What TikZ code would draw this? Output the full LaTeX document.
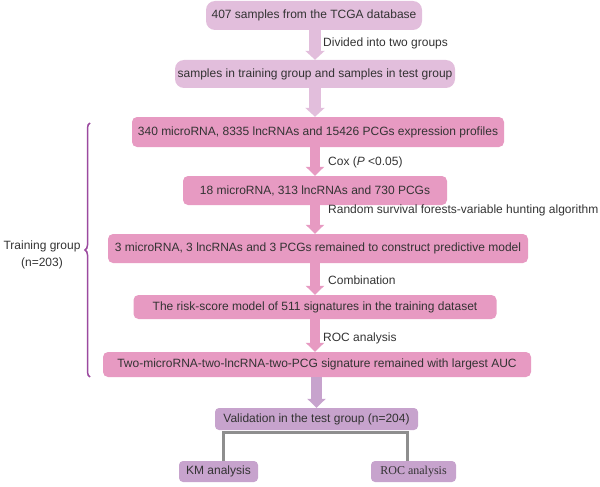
\documentclass[tikz,border=0pt]{standalone}
\usepackage{fontspec}
\setmainfont{Liberation Sans}
\newfontfamily\serifroc{Liberation Serif}
\usetikzlibrary{arrows.meta,decorations.pathreplacing,calc}
\definecolor{rosaclaro}{HTML}{E2BEDC}
\definecolor{rosa}{HTML}{E79AC2}
\definecolor{lilas}{HTML}{C7A3CD}
\definecolor{cinza}{HTML}{8E8E8E}
\definecolor{roxo}{HTML}{9B4A9F}
\definecolor{texto}{HTML}{333333}

\begin{document}
\begin{tikzpicture}[x=1pt,y=-1pt,font=\fontsize{12}{14}\selectfont,text=texto,
	caixa/.style = {fill=rosa,rounded corners=5pt,inner sep=0pt},
	caixaclara/.style = {fill=rosaclaro,rounded corners=9pt,inner sep=0pt},
	caixalilas/.style = {fill=lilas,rounded corners=4pt,inner sep=0pt},
	seta/.style = {draw=rosa,line width=10pt,-{Triangle[width=18pt,length=9pt]}},
	setaclara/.style = {draw=rosaclaro,line width=12pt,-{Triangle[width=19pt,length=9pt]}},
	setalilas/.style = {draw=lilas,line width=11pt,-{Triangle[width=18pt,length=9pt]}},
	rotulo/.style = {anchor=west,inner sep=0pt}]
	\useasboundingbox (0,0) rectangle (600,487);

	\node[caixaclara,minimum width=216pt,minimum height=29pt] (A) at (314,15.5) {407 samples from the TCGA database};
	\node[caixaclara,minimum width=280pt,minimum height=28pt] (B) at (315,74) {samples in training group and samples in test group};
	\node[caixa,minimum width=372pt,minimum height=30pt] (C) at (318,132) {340 microRNA, 8335 lncRNAs and 15426 PCGs expression profiles};
	\node[caixa,minimum width=264pt,minimum height=29pt] (D) at (315,190.5) {18 microRNA, 313 lncRNAs and 730 PCGs};
	\node[caixa,minimum width=420pt,minimum height=29pt] (E) at (318,248.5) {3 microRNA, 3 lncRNAs and 3 PCGs remained to construct predictive model};
	\node[caixa,minimum width=363pt,minimum height=24pt] (F) at (315,307) {The risk-score model of 511 signatures in the training dataset};
	\node[caixa,minimum width=428pt,minimum height=25pt] (G) at (317,364.5) {Two-microRNA-two-lncRNA-two-PCG signature remained with largest AUC};
	\node[caixalilas,minimum width=203pt,minimum height=22pt] (valid) at (316.5,419) {Validation in the test group (n=204)};
	\node[caixalilas,minimum width=79pt,minimum height=21pt] (km) at (218.5,471.5) {KM analysis};
	\node[caixalilas,minimum width=85pt,minimum height=21pt] (roc) at (413.5,471.5) {\serifroc ROC analysis};

	\node[align=center,font=\fontsize{12}{17}\selectfont] (treino) at (42,255) {Training group\\(n=203)};

	\node[rotulo] (r1) at (323,43) {Divided into two groups};
	\node[rotulo] (r2) at (328,162) {Cox (\textit{P} <0.05)};
	\node[rotulo] (r3) at (328,210) {Random survival forests-variable hunting algorithm};
	\node[rotulo] (r4) at (328,280) {Combination};
	\node[rotulo] (r5) at (323,338) {ROC analysis};

	\draw[setaclara] (A.south -| B.north) -- (B.north);
	\draw[setaclara] (B.south) -- (B.south |- C.north);
	\draw[seta] (B.south |- C.south) -- (B.south |- D.north);
	\draw[seta] (B.south |- D.south) -- (B.south |- E.north);
	\draw[seta] (B.south |- E.south) -- (B.south |- F.north);
	\draw[seta] (B.south |- F.south) -- (B.south |- G.north);
	\draw[setalilas] (valid.north |- G.south) -- (valid.north);
	\draw[cinza,line width=3pt] ($(km.north)+(5,0)$) |- ($(valid.south)+(0,2)$) -| ($(roc.north)+(-6,0)$);

	\draw[roxo,line width=1.5pt,decorate,decoration={brace,amplitude=5pt}] (90,377) -- (90,123);
\end{tikzpicture}
\end{document}
